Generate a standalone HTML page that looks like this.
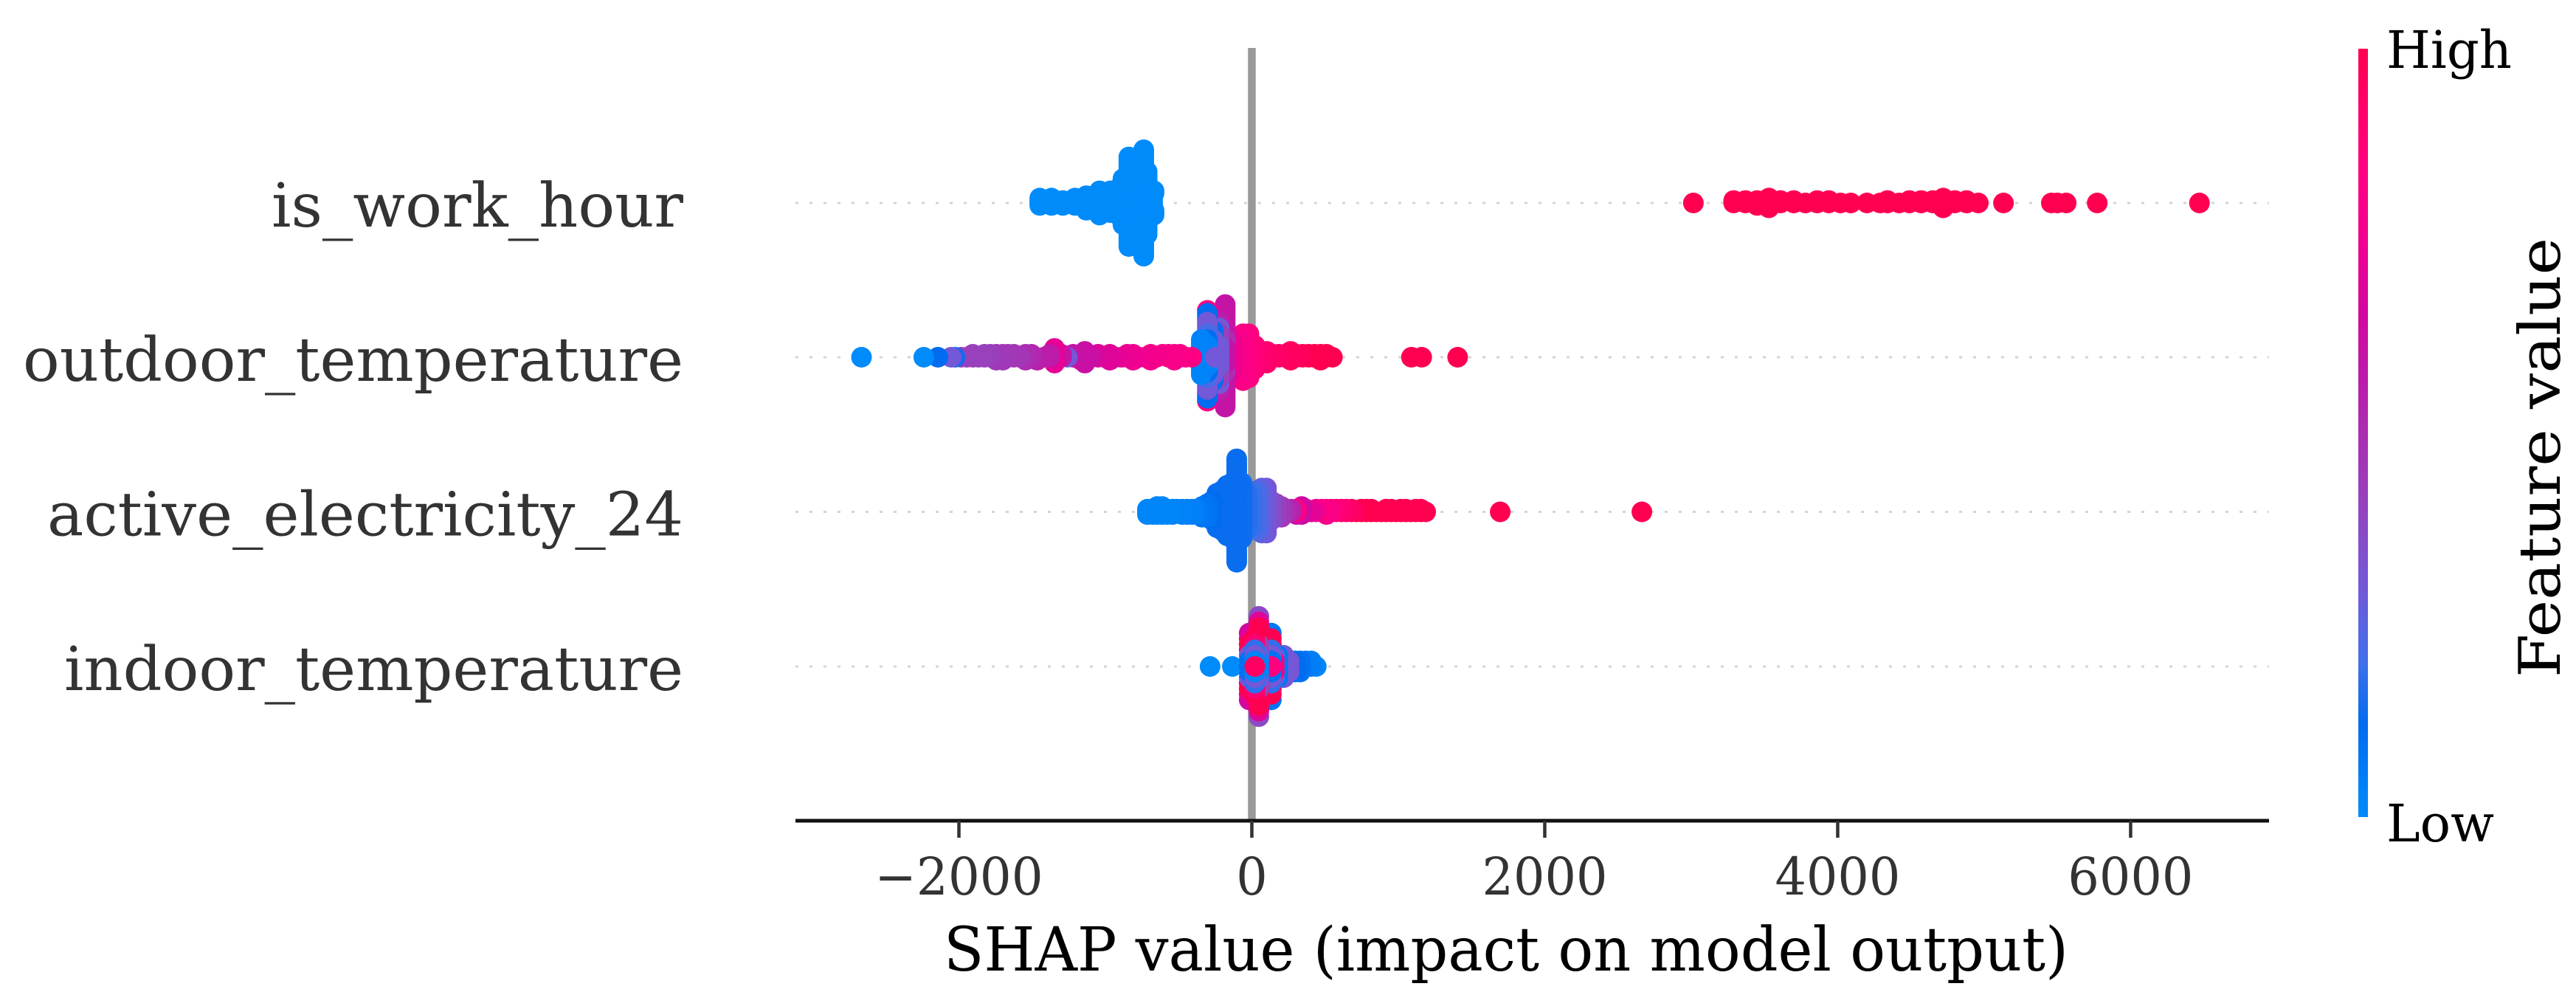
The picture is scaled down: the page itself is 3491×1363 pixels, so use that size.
<!DOCTYPE html>
<html lang="en">
<head>
<meta charset="utf-8">
<title>SHAP beeswarm summary</title>
<style>
  html, body { margin: 0; padding: 0; background: #fff; }
  svg { display: block; }
  text { font-family: "DejaVu Serif", "Liberation Serif", serif; }
</style>
</head>
<body>
<svg id="chart" xmlns="http://www.w3.org/2000/svg" width="3491" height="1363" viewBox="0 0 3491 1363">
  <defs>
    <linearGradient id="cbar" x1="0" y1="1" x2="0" y2="0"></linearGradient>
  </defs>
  <rect x="0" y="0" width="3491" height="1363" fill="#ffffff"/>
  <g id="rows"></g>
  <g id="points"></g>
  <g id="axis"></g>
  <text x="2041" y="1315" font-size="82" fill="#000" text-anchor="middle" textLength="1524" lengthAdjust="spacingAndGlyphs">SHAP value (impact on model output)</text>
  <rect x="3196" y="66" width="13" height="1041" fill="url(#cbar)"/>
  <text x="3234" y="92" font-size="70" fill="#000" textLength="170" lengthAdjust="spacingAndGlyphs">High</text>
  <text x="3234" y="1140" font-size="70" fill="#000" textLength="146" lengthAdjust="spacingAndGlyphs">Low</text>
  <text transform="translate(3469 620) rotate(-90)" font-size="78" fill="#000" text-anchor="middle" textLength="596" lengthAdjust="spacingAndGlyphs">Feature value</text>
</svg>
<script>
// ---- axis data ----
const xDomain = [-3116, 6945];
const xTickValues = [-2000, 0, 2000, 4000, 6000];
const xTickLabels = ["\u22122000", "0", "2000", "4000", "6000"];
const featureNames = ["is_work_hour", "outdoor_temperature", "active_electricity_24", "indoor_temperature"];
const featureLabelWidths = [558, 895, 862, 839];

// ---- colour map (feature value -> colour) ----
const colorPositions = [0, 0.12, 0.2, 0.3, 0.42, 0.55, 0.65, 0.75, 0.85, 1];
const colorValues = ["#008bfb", "#006cf0", "#3f70ea", "#7358d8", "#9940bc", "#b820ac", "#d008a0", "#f00090", "#ff0080", "#ff0051"];

// ---- series: shap value, number of samples at that value, feature value ----
const workHourShap = [-1448,-1368,-1290,-1208,-1130,-1060,-1040,-985,-965,-910,-895,-880,-815,-795,-840,-760,-715,-738,-678,-668,
  3015,3290,3370,3450,3530,3610,3700,3780,3860,3940,4020,4090,4200,4290,4340,4420,4490,4570,4650,4720,4800,4880,4960,5132,5459,5500,5560,5772,6470];
const workHourCount = [4,4,3,4,7,4,7,5,5,7,7,6,12,12,14,12,15,18,6,5,
  1,2,2,3,5,2,2,1,2,2,1,1,1,1,2,1,2,2,2,5,2,2,1,1,1,1,1,1,1];
const workHourFeature = [0,0,0,0,0,0,0,0,0,0,0,0,0,0,0,0,0,0,0,0,
  1,1,1,1,1,1,1,1,1,1,1,1,1,1,1,1,1,1,1,1,1,1,1,1,1,1,1,1,1];

const outdoorShap = [-2665,-2240,-2143,-2053,-2027,-1985,-1945,-1905,-1865,-1825,-1785,-1745,-1700,-1665,-1625,-1585,-1545,-1505,-1465,-1420,-1380,-1347,-1300,-1260,-1220,-1166,-1140,-1100,
  -1050,-1010,-970,-930,-890,-850,-810,-770,-730,-690,-650,-610,-570,-530,-490,-450,-410,
  -250,-345,-304,-304,-304,-304,-304,-304,-264,-264,-223,-223,-223,-223,-182,-182,-182,-142,-101,-60,-20,21,62,103,143,184,225,265,306,347,388,428,469,510,550,1090,1160,1405];
const outdoorCount = [1,1,1,1,1,1,1,2,1,2,2,3,3,2,2,1,3,2,1,1,2,4,2,1,2,3,2,1,
  2,1,3,1,1,2,3,1,1,3,1,1,2,3,2,1,1,
  1,13,8,4,4,8,6,2,12,5,8,8,4,4,6,6,24,12,14,17,16,9,5,5,2,2,2,4,2,2,2,2,3,2,1,1,1,1];
const outdoorFeature = [0,0,0.12,0.3,0.14,0.42,0.42,0.42,0.42,0.42,0.43,0.45,0.45,0.46,0.46,0.46,0.5,0.52,0.55,0.57,0.58,0.72,0.6,0.3,0.6,0.62,0.62,0.62,
  0.68,0.7,0.7,0.72,0.73,0.74,0.75,0.76,0.77,0.78,0.78,0.8,0.8,0.8,0.82,0.82,0.84,
  0.3,0.03,0.03,0.12,0.22,0.3,0.12,0.85,0.3,0.12,0.3,0.42,0.3,0.55,0.62,0.5,0.6,0.74,0.8,0.82,0.86,0.88,0.9,0.92,0.93,0.94,0.95,0.96,0.97,0.98,1,1,1,1,1,1,1,1];

const electricityShap = [-713,-678,-647,-612,-577,-542,-511,-476,-441,-406,-375,-340,-305,-274,-239,-204,-169,-135,-103,-68,-33,-3,33,68,100,135,169,203,237,269,305,305,340,372,406,440,
  476,510,543,577,611,645,680,713,747,781,815,849,883,917,951,985,1018,1052,1086,1120,1154,1187,1696,2663];
const electricityCount = [3,3,4,4,3,3,2,3,3,3,3,5,6,8,14,16,20,22,40,22,14,14,16,18,18,8,6,5,2,2,2,1,4,2,1,2,
  2,3,2,2,2,2,2,1,2,2,2,1,1,2,2,1,2,2,1,2,2,1,1,1];
const electricityFeature = [0.02,0.02,0.02,0.02,0.02,0.03,0.03,0.03,0.04,0.04,0.06,0.08,0.09,0.12,0.13,0.13,0.13,0.13,0.13,0.14,0.17,0.19,0.22,0.27,0.31,0.36,0.42,0.46,0.5,0.55,0.82,0.62,0.64,0.72,0.7,0.76,
  0.85,0.8,0.86,0.88,0.9,0.92,0.95,0.97,1,1,1,1,1,1,1,1,1,1,1,1,1,1,1,1];

const indoorShap = [20,20,20,20,20,20,48,48,48,48,48,48,133,133,133,133,133,133,153,153,153,-18,-18,-18,-18,-18,-5,-5,-5,-5,6,6,6,34,34,34,78,78,78,78,92,92,92,108,108,108,120,120,120,178,218,254,295,330,370,405,440,-133,-285];
const indoorCount = [1,2,2,2,2,2,3,2,4,6,2,2,1,2,2,2,4,2,1,2,2,3,2,4,2,2,3,2,2,2,3,4,3,3,4,4,5,4,2,2,4,4,2,5,4,2,3,3,4,5,5,3,3,3,2,2,1,1,1];
const indoorFeature = [0.95,0.03,0.3,0.18,0.9,1,0.03,0.28,0.4,1,0.7,0.38,0.85,0.1,0.3,0.18,1,0.08,0.85,0.85,0.3,0.1,0.3,1,0.7,0.65,0.15,0.95,0.2,0.95,0.3,0.18,1,0.12,0.35,0.95,0.35,0.2,0.05,0.95,0.4,0.1,0.95,0.3,0.05,0.95,0.2,0.3,0.95,0.08,0.3,0.32,0.12,0.1,0.06,0.05,0.02,0,0];

// ---- layout constants ----
const plotLeft = 1078, plotRight = 3075, axisY = 1112, plotTop = 65;
const rowYs = [275, 484, 693.5, 903];
const pointRadius = 14, maxSwarmOffset = 75.4, swarmBins = 100;

const svgNS = "http://www.w3.org/2000/svg";
const rowsG = document.getElementById("rows");
const pointsG = document.getElementById("points");
const axisG = document.getElementById("axis");
const grad = document.getElementById("cbar");

function xScale(v) {
  return plotLeft + (v - xDomain[0]) / (xDomain[1] - xDomain[0]) * (plotRight - plotLeft);
}
function hexToRgb(h) {
  return [parseInt(h.slice(1, 3), 16), parseInt(h.slice(3, 5), 16), parseInt(h.slice(5, 7), 16)];
}
function colorFor(f) {
  for (let i = 1; i < colorPositions.length; i++) {
    if (f <= colorPositions[i]) {
      const t = (f - colorPositions[i - 1]) / (colorPositions[i] - colorPositions[i - 1]);
      const a = hexToRgb(colorValues[i - 1]), b = hexToRgb(colorValues[i]);
      return "rgb(" + a.map((c, k) => Math.round(c + (b[k] - c) * t)).join(",") + ")";
    }
  }
  return colorValues[colorValues.length - 1];
}

// colorbar gradient
colorPositions.forEach((p, i) => {
  const s = document.createElementNS(svgNS, "stop");
  s.setAttribute("offset", p);
  s.setAttribute("stop-color", colorValues[i]);
  grad.appendChild(s);
});

// row guides and feature labels
featureNames.forEach((name, i) => {
  const l = document.createElementNS(svgNS, "line");
  
  
  l.setAttribute("x1", plotLeft);
  l.setAttribute("x2", plotRight);
  l.setAttribute("y1", rowYs[i]);
  l.setAttribute("y2", rowYs[i]);
  l.setAttribute("stroke", "#d4d4d4");
  l.setAttribute("stroke-width", 3);
  l.setAttribute("stroke-dasharray", "4 15");
  rowsG.appendChild(l);

  const t = document.createElementNS(svgNS, "text");
  
  
  t.setAttribute("x", 926 - featureLabelWidths[i]);
  t.setAttribute("y", rowYs[i] + 32);
  t.setAttribute("font-size", 82);
  t.setAttribute("fill", "#333333");
  t.setAttribute("textLength", featureLabelWidths[i]);
  t.setAttribute("lengthAdjust", "spacingAndGlyphs");
  t.textContent = name;
  rowsG.appendChild(t);
});

// zero line
const zero = document.createElementNS(svgNS, "line");


zero.setAttribute("x1", xScale(0));
zero.setAttribute("x2", xScale(0));
zero.setAttribute("y1", plotTop);
zero.setAttribute("y2", axisY);
zero.setAttribute("stroke", "#999999");
zero.setAttribute("stroke-width", 10.5);
rowsG.insertBefore(zero, rowsG.firstChild);

// beeswarm: same binning/layering as the summary plot
const seriesList = [
  [workHourShap, workHourCount, workHourFeature],
  [outdoorShap, outdoorCount, outdoorFeature],
  [electricityShap, electricityCount, electricityFeature],
  [indoorShap, indoorCount, indoorFeature]
];
seriesList.forEach((series, rowIndex) => {
  const shapVals = series[0], counts = series[1], feats = series[2];
  const lo = Math.min(...shapVals), hi = Math.max(...shapVals);
  const placed = [];
  const layers = {};
  let maxLayer = 0;
  shapVals.forEach((v, i) => {
    const bin = Math.round(swarmBins * (v - lo) / (hi - lo));
    for (let n = 0; n < counts[i]; n++) {
      const layer = layers[bin] || 0;
      layers[bin] = layer + 1;
      const level = Math.ceil(layer / 2) * (layer % 2 ? 1 : -1);
      maxLayer = Math.max(maxLayer, Math.abs(level));
      placed.push([v, level, feats[i]]);
    }
  });
  const step = maxSwarmOffset / (maxLayer + 1);
  // drawn outermost/rightmost first so the inner samples stay visible
  for (let i = placed.length - 1; i >= 0; i--) {
    const p = placed[i];
    const c = document.createElementNS(svgNS, "circle");
    
    
    c.setAttribute("cx", xScale(p[0]).toFixed(1));
    c.setAttribute("cy", (rowYs[rowIndex] - p[1] * step).toFixed(1));
    c.setAttribute("r", pointRadius);
    c.setAttribute("fill", colorFor(p[2]));
    pointsG.appendChild(c);
  }
});

// x axis
const axisLine = document.createElementNS(svgNS, "line");


axisLine.setAttribute("x1", plotLeft);
axisLine.setAttribute("x2", plotRight);
axisLine.setAttribute("y1", axisY);
axisLine.setAttribute("y2", axisY);
axisLine.setAttribute("stroke", "#111111");
axisLine.setAttribute("stroke-width", 5);
axisG.appendChild(axisLine);

xTickValues.forEach((v, i) => {
  const tick = document.createElementNS(svgNS, "line");
  
  
  tick.setAttribute("x1", xScale(v));
  tick.setAttribute("x2", xScale(v));
  tick.setAttribute("y1", axisY);
  tick.setAttribute("y2", axisY + 23);
  tick.setAttribute("stroke", "#333333");
  tick.setAttribute("stroke-width", 4.5);
  axisG.appendChild(tick);

  const label = document.createElementNS(svgNS, "text");
  
  
  label.setAttribute("x", xScale(v));
  label.setAttribute("y", 1212);
  label.setAttribute("font-size", 70);
  label.setAttribute("fill", "#333333");
  label.setAttribute("text-anchor", "middle");
  label.setAttribute("textLength", xTickLabels[i].length * 42.5 + (v < 0 ? 16 : 0));
  label.setAttribute("lengthAdjust", "spacingAndGlyphs");
  label.textContent = xTickLabels[i];
  axisG.appendChild(label);
});
</script>
</body>
</html>
